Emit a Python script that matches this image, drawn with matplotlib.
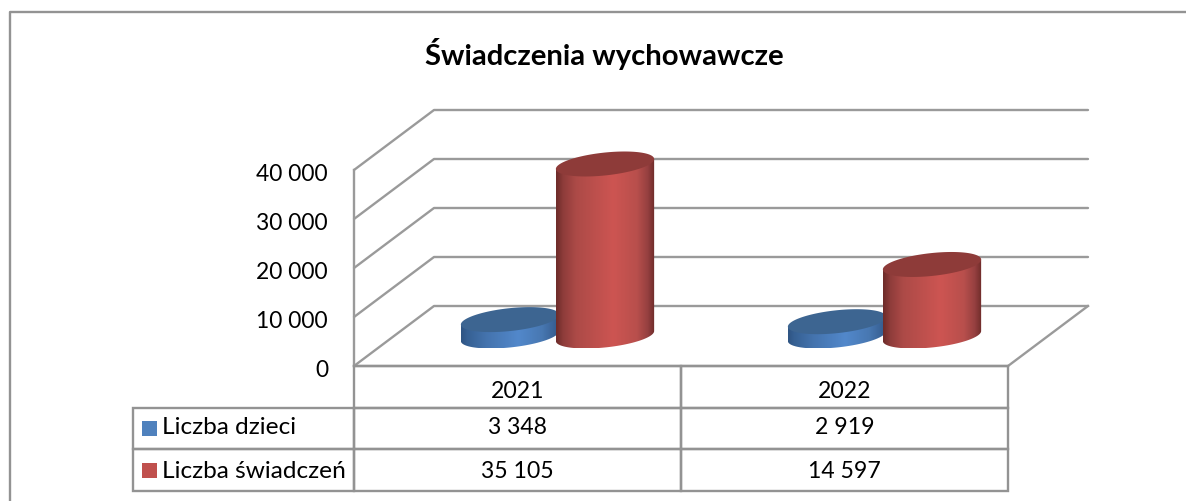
import numpy as np
import matplotlib
matplotlib.use("Agg")
import matplotlib.pyplot as plt
from matplotlib.patches import Polygon, Rectangle
from matplotlib.lines import Line2D
from matplotlib.colors import LinearSegmentedColormap

categories = ["2021", "2022"]
series_names = ["Liczba dzieci", "Liczba świadczeń"]
liczba_dzieci = [3348, 2919]
liczba_swiadczen = [35105, 14597]
y_ticks = [0, 10000, 20000, 30000, 40000]
title = "Świadczenia wychowawcze"

W, H = 1186, 501
plt.rcParams["font.family"] = ["Lato", "DejaVu Sans"]
GREY = "#9a9a9a"

fig = plt.figure(figsize=(W / 100, H / 100), dpi=100)
L, R, T, B = 354, 1008, 170, 366  # front plane in pixels
ax = fig.add_axes([L / W, 1 - B / H, (R - L) / W, (B - T) / H])
ax.set_xlim(0, 2)
ax.set_ylim(0, 40000)
ax.axis("off")

px_x = 2 / (R - L)           # data units per pixel
px_y = 40000 / (B - T)
dx, dy = 80 * px_x, 60 * px_y  # depth offset


def fmt(v):
    return f"{v:,}".replace(",", " ")


# outer frame
fig.add_artist(Line2D([10 / W, 10 / W, 1], [0, 1 - 12 / H, 1 - 12 / H],
                      color="#939393", lw=1.7))

# walls and grid
lw = 1.7
for v in y_ticks:
    ax.plot([0, dx, 2 + dx], [v, v + dy, v + dy], color=GREY, lw=lw,
            clip_on=False, solid_capstyle="round", zorder=1)
    ax.text(-26 * px_x, v - 4.5 * px_y, fmt(v), ha="right", va="center", fontsize=16.4,
            color="black", clip_on=False)
ax.plot([0, 0], [0, 40000], color=GREY, lw=lw, clip_on=False, zorder=1)
ax.plot([2, 2 + dx], [0, dy], color=GREY, lw=lw, clip_on=False, zorder=1)
ax.plot([0, 2], [0, 0], color=GREY, lw=lw, clip_on=False, zorder=1)

# cylinders
A, Bb, TH = 49.4, 11.4, np.radians(6.1)
t = np.linspace(0, 2 * np.pi, 241)[:-1]
ex = A * np.cos(t) * np.cos(TH) - Bb * np.sin(t) * np.sin(TH)
ey = A * np.cos(t) * np.sin(TH) + Bb * np.sin(t) * np.cos(TH)

BLUE_STOPS = [(0, "#2f5583"), (0.06, "#366093"), (0.25, "#4473ad"),
              (0.58, "#5288cb"), (0.82, "#4878b2"), (1, "#33598a")]
RED_STOPS = [(0, "#6e2c2a"), (0.07, "#8e3c3a"), (0.2, "#ac4a47"),
             (0.58, "#cd5552"), (0.82, "#b84f4c"), (0.93, "#964040"), (1, "#6f2c2a")]


def cylinder(center, value, stops, top_color, zorder):
    cx = center + dx / 2
    base = dy / 2
    xs = cx + ex * px_x
    yb = base + ey * px_y
    yt = yb + value
    i = int(np.argmax(ex))
    j = int(np.argmin(ex))
    n = len(ex)
    lower = [(j + k) % n for k in range((i - j) % n + 1)]
    body = np.vstack([
        np.column_stack([xs[lower], yb[lower]]),
        [[xs[i], yt[i]], [xs[j], yt[j]]],
    ])
    clip = Polygon(body, closed=True, transform=ax.transData, fc="none", ec="none", clip_on=False)
    ax.add_patch(clip)
    cmap = LinearSegmentedColormap.from_list("c", stops)
    im = ax.imshow(np.linspace(0, 1, 200)[None, :], cmap=cmap, aspect="auto",
                   extent=(xs.min(), xs.max(), yb.min(), yt.max()),
                   zorder=zorder, interpolation="bilinear")
    im.set_clip_box(fig.bbox)
    im.set_clip_path(clip)
    ax.add_patch(Polygon(np.column_stack([xs, yt]), closed=True, fc=top_color,
                         ec="none", zorder=zorder + 0.1, clip_on=False))


half = 47.5 * px_x
for c in range(len(categories)):
    cylinder(c + 0.5 - half, liczba_dzieci[c], BLUE_STOPS, "#3d6591", zorder=3)
for c in range(len(categories)):
    cylinder(c + 0.5 + half, liczba_swiadczen[c], RED_STOPS, "#8e3b39", zorder=4)
ax.set_xlim(0, 2)
ax.set_ylim(0, 40000)

# data table (grid from ax.table, labels placed within its rows)
TL = 133
tbl_y0, tbl_y1 = 491, 366
n_rows = 3
bbox = [(TL - L) / (R - L), -(tbl_y0 - B) / (B - T),
        (R - TL) / (R - L), (tbl_y0 - tbl_y1) / (B - T)]
tab = ax.table(cellText=[[""] * 3 for _ in range(n_rows)], bbox=bbox,
               colWidths=[221, 327, 327])
tab.set_zorder(2)
for (r, c), cell in tab.get_celld().items():
    cell.set_edgecolor("#939393")
    cell.set_linewidth(1.7)
    cell.set_facecolor("none")
    if (r, c) == (0, 0):
        cell.visible_edges = ""

row_y = [392, 428, 471]
def ypos(py):
    return (B - py) * px_y

for c, name in enumerate(categories):
    ax.text(c + 0.5, ypos(row_y[0]), name, ha="center", va="center", fontsize=16.6, clip_on=False)
    ax.text(c + 0.5, ypos(row_y[1]), fmt(liczba_dzieci[c]), ha="center", va="center", fontsize=16.6, clip_on=False)
    ax.text(c + 0.5, ypos(row_y[2]), fmt(liczba_swiadczen[c]), ha="center", va="center", fontsize=16.6, clip_on=False)

for name, ypx, col, ty in [(series_names[0], 421, "#4f81bd", row_y[1]),
                           (series_names[1], 463, "#c0504d", row_y[2])]:
    fig.add_artist(Rectangle((142 / W, 1 - (ypx + 15) / H), 15 / W, 15 / H, fc=col, ec="none",
                             transform=fig.transFigure))
    ax.text((162 - L) * px_x, ypos(ty), name, ha="left", va="center", fontsize=17.6, clip_on=False)

fig.text(604 / W, 1 - 54 / H, title, ha="center", va="center", fontsize=21.1,
         fontweight="bold", color="black")

fig.savefig("out.png", dpi=100, facecolor="white")
